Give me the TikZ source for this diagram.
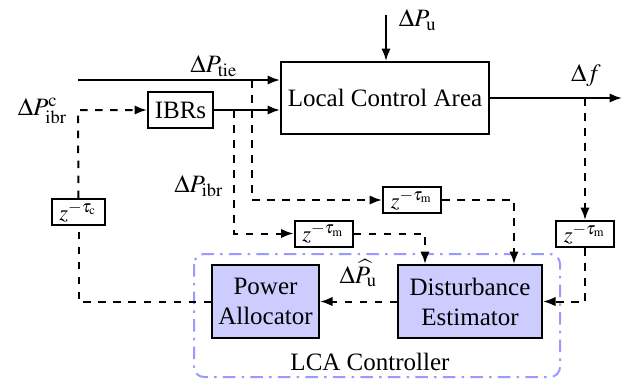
\documentclass[tikz,border=0pt]{standalone}
\usepackage{amsmath}
\usepackage{mathptmx}
\usepackage[no-math]{fontspec}
\setmainfont{Liberation Serif}
\usetikzlibrary{arrows.meta, positioning, calc}

\tikzset{
    blk/.style={draw, thick, align=center, inner sep=1pt},
    ctrlblk/.style={blk, fill=blue!20},
    delay/.style={draw, thick, inner sep=0.5pt, minimum width=23.2pt, minimum height=10.4pt, font=\small},
    sig/.style={thick, -{Latex[length=5pt]}},
    meas/.style={thick, dashed, -{Latex[length=5pt]}},
    measline/.style={thick, dashed}
}

\begin{document}
\begin{tikzpicture}[x=0.4pt, y=-0.4pt]
    \useasboundingbox (0,0) rectangle (633,381);
    % Blocks
    \node[blk, minimum width=83.2pt, minimum height=28.8pt] (lca) at (385,98) {Local Control Area};
    \node[blk, minimum width=26pt, minimum height=14.4pt] (ibrs) at (180.5,110) {IBRs};
    \node[ctrlblk, minimum width=57.6pt, minimum height=29.2pt] (de) at (470,301.5) {Disturbance\\Estimator};
    \node[ctrlblk, minimum width=42.8pt, minimum height=29.2pt] (pa) at (265.5,301.5) {Power\\Allocator};
    % Delays
    \node[delay, minimum width=21.2pt] (zc) at (78.5,212) {$z^{-\tau_{\mathrm{c}}}$};
    \node[delay] (ztie) at (412,200) {$z^{-\tau_{\mathrm{m}}}$};
    \node[delay] (zibr) at (323.5,233.5) {$z^{-\tau_{\mathrm{m}}}$};
    \node[delay] (zf) at (585,234) {$z^{-\tau_{\mathrm{m}}}$};
    % Controller frame
    \draw[blue!40, thick, dash pattern=on 5pt off 2.5pt on 1pt off 2.5pt, rounded corners=4pt] (194,254) rectangle (560,377);
    \node (ctrl) at (370,362) {LCA Controller};
    % Free ends
    \coordinate (tiein) at (78,80);
    \coordinate (taptie) at (252,80);
    \coordinate (tapibr) at (234,110);
    \coordinate (cin) at (78,110);
    \coordinate (pu) at (386,15);
    \coordinate (fout) at (622,98);
    \coordinate (tapf) at (585,98);
    % Plant signals
    \draw[sig] (tiein) -- (tiein -| lca.west);
    \draw[sig] (pu) -- (pu |- lca.north);
    \draw[sig] (ibrs.east) -- (ibrs.east -| lca.west);
    \draw[sig] (lca.east) -- (fout);
    \node (ptie) at (214,66) {$\Delta P_{\mathrm{tie}}$};
    \node[right] (lpu) at (390,20) {$\Delta P_{\mathrm{u}}$};
    \node (df) at (586,76) {$\Delta f$};
    \node[left] (pibrc) at (76,111) {$\Delta P^{\mathrm{c}}_{\mathrm{ibr}}$};
    \node (pibr) at (199,186) {$\Delta P_{\mathrm{ibr}}$};
    % Measurements
    \draw[meas] (taptie) -- (taptie |- ztie) -- (ztie.west);
    \draw[meas] (ztie.east) -| ($(de.north)+(44,0)$);
    \draw[meas] (tapibr) -- (tapibr |- zibr) -- (zibr.west);
    \draw[meas] (zibr.east) -| ($(de.north)+(-45,0)$);
    \draw[meas] (tapf) -- (zf.north);
    \draw[meas] (zf.south) |- (de.east);
    % Control
    \draw[meas] (de.west) -- (pa.east) node[midway, above=2pt] (pu_hat) {$\Delta \widehat{P}_{\mathrm{u}}$};
    \draw[measline] (pa.west) -| (zc.south);
    \draw[meas] (zc.north) -- (cin) -- (ibrs.west);
\end{tikzpicture}
\end{document}
